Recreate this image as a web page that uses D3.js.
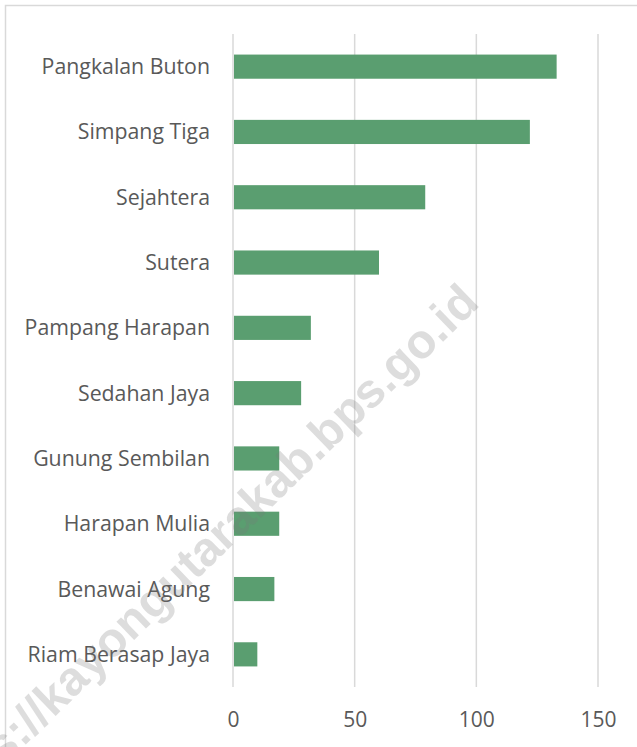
<!DOCTYPE html>
<html>
<head>
<meta charset="utf-8">
<script src="https://cdn.jsdelivr.net/npm/d3@7"></script>
<style>
  body { margin: 0; background: #fff; }
  svg { display: block; }
</style>
</head>
<body>
<div id="chart"></div>
<script>
var width = 637;
var height = 747;

// data
var villages = ["Pangkalan Buton", "Simpang Tiga", "Sejahtera", "Sutera", "Pampang Harapan",
  "Sedahan Jaya", "Gunung Sembilan", "Harapan Mulia", "Benawai Agung", "Riam Berasap Jaya"];
var counts = [133, 122, 79, 60, 32, 28, 19, 19, 17, 10];
var ticks = [0, 50, 100, 150];

var margin = {top: 34, right: 39, bottom: 60, left: 233};

var svg = d3.select("#chart")
  .append("svg")
  .attr("width", width)
  .attr("height", height);

// outer chart border (right and bottom fall outside the picture)
svg.append("rect")
  .attr("x", 5.5)
  .attr("y", 5.5)
  .attr("width", width + 20)
  .attr("height", height + 20)
  .attr("fill", "none")
  .attr("stroke", "#d9d9d9")
  .attr("stroke-width", 1.5);

var x = d3.scaleLinear()
  .domain([0, 150])
  .range([margin.left, width - margin.right]);

var y = d3.scaleBand()
  .domain(villages)
  .range([margin.top, height - margin.bottom])
  .paddingInner(0.63)
  .paddingOuter(0.315);

// gridlines
svg.append("g")
  .selectAll("line")
  .data(ticks)
  .enter()
  .append("line")
  .attr("x1", d => x(d))
  .attr("x2", d => x(d))
  .attr("y1", margin.top)
  .attr("y2", height - margin.bottom)
  .attr("stroke", "#d9d9d9")
  .attr("stroke-width", 1.5);

// bars
svg.append("g")
  .selectAll("rect")
  .data(villages)
  .enter()
  .append("rect")
  .attr("x", x(0) + 1)
  .attr("y", d => y(d))
  .attr("width", (d, i) => x(counts[i]) - x(0) - 1)
  .attr("height", y.bandwidth())
  .attr("fill", "#5a9e70");

// category labels
svg.append("g")
  .selectAll("text")
  .data(villages)
  .enter()
  .append("text")
  .text(d => d)
  .attr("x", margin.left - 23)
  .attr("y", d => y(d) + y.bandwidth() / 2)
  .attr("dy", "0.35em")
  .attr("text-anchor", "end")
  .attr("font-family", "'Open Sans', sans-serif")
  .attr("font-size", 21.3)
  .attr("fill", "#595959");

// x axis tick labels
var xAxis = d3.axisBottom(x).tickValues(ticks).tickSize(0).tickPadding(0);
var axisG = svg.append("g")
  .attr("transform", "translate(0," + (height - margin.bottom + 25) + ")")
  .call(xAxis);
axisG.select(".domain").remove();
axisG.selectAll("text")
  .attr("font-family", "'Open Sans', sans-serif")
  .attr("font-size", 21)
  .attr("fill", "#595959");

// watermark
svg.append("text")
  .text("https://kayongutarakab.bps.go.id")
  .attr("transform", "translate(481,305) rotate(-44)")
  .attr("text-anchor", "end")
  .attr("font-family", "'Liberation Sans', Arial, sans-serif")
  .attr("font-weight", "bold")
  .attr("font-size", 48)
  .attr("fill", "rgba(120,120,120,0.25)");
</script>
</body>
</html>
